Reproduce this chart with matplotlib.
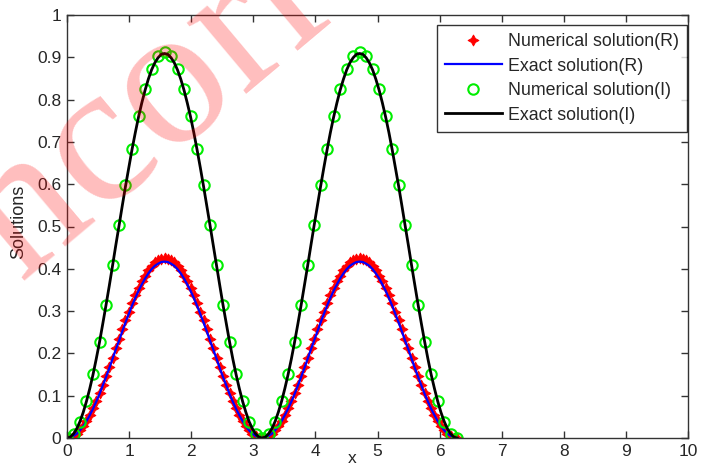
import matplotlib
matplotlib.use("Agg")
import matplotlib.pyplot as plt

# ---------------- data ----------------
x_vals = [0.000, 0.052, 0.105, 0.157, 0.209, 0.262, 0.314, 0.367, 0.419, 0.471,
          0.524, 0.576, 0.628, 0.681, 0.733, 0.785, 0.838, 0.890, 0.942, 0.995,
          1.047, 1.100, 1.152, 1.204, 1.257, 1.309, 1.361, 1.414, 1.466, 1.518,
          1.571, 1.623, 1.676, 1.728, 1.780, 1.833, 1.885, 1.937, 1.990, 2.042,
          2.094, 2.147, 2.199, 2.251, 2.304, 2.356, 2.409, 2.461, 2.513, 2.566,
          2.618, 2.670, 2.723, 2.775, 2.827, 2.880, 2.932, 2.985, 3.037, 3.089,
          3.142, 3.194, 3.246, 3.299, 3.351, 3.403, 3.456, 3.508, 3.560, 3.613,
          3.665, 3.718, 3.770, 3.822, 3.875, 3.927, 3.979, 4.032, 4.084, 4.136,
          4.189, 4.241, 4.294, 4.346, 4.398, 4.451, 4.503, 4.555, 4.608, 4.660,
          4.712, 4.765, 4.817, 4.869, 4.922, 4.974, 5.027, 5.079, 5.131, 5.184,
          5.236, 5.288, 5.341, 5.393, 5.445, 5.498, 5.550, 5.603, 5.655, 5.707,
          5.760, 5.812, 5.864, 5.917, 5.969, 6.021, 6.074, 6.126, 6.178, 6.231,
          6.283]

num_R = [0.000, 0.001, 0.005, 0.010, 0.018, 0.028, 0.041, 0.055, 0.070, 0.088,
         0.106, 0.126, 0.147, 0.168, 0.190, 0.212, 0.235, 0.257, 0.278, 0.299,
         0.319, 0.337, 0.355, 0.370, 0.384, 0.397, 0.407, 0.415, 0.420, 0.424,
         0.425, 0.424, 0.420, 0.415, 0.407, 0.397, 0.384, 0.370, 0.355, 0.337,
         0.319, 0.299, 0.278, 0.257, 0.235, 0.212, 0.190, 0.168, 0.147, 0.126,
         0.106, 0.088, 0.070, 0.055, 0.041, 0.028, 0.018, 0.010, 0.005, 0.001,
         0.000, 0.001, 0.005, 0.010, 0.018, 0.028, 0.041, 0.055, 0.070, 0.088,
         0.106, 0.126, 0.147, 0.168, 0.190, 0.212, 0.235, 0.257, 0.278, 0.299,
         0.319, 0.337, 0.355, 0.370, 0.384, 0.397, 0.407, 0.415, 0.420, 0.424,
         0.425, 0.424, 0.420, 0.415, 0.407, 0.397, 0.384, 0.370, 0.355, 0.337,
         0.319, 0.299, 0.278, 0.257, 0.235, 0.212, 0.190, 0.168, 0.147, 0.126,
         0.106, 0.088, 0.070, 0.055, 0.041, 0.028, 0.018, 0.010, 0.005, 0.001,
         0.000]

exact_R = [0.000, 0.001, 0.005, 0.010, 0.018, 0.028, 0.040, 0.054, 0.069, 0.086,
           0.104, 0.124, 0.144, 0.165, 0.187, 0.209, 0.230, 0.252, 0.273, 0.293,
           0.313, 0.331, 0.348, 0.363, 0.377, 0.389, 0.399, 0.407, 0.412, 0.416,
           0.417, 0.416, 0.412, 0.407, 0.399, 0.389, 0.377, 0.363, 0.348, 0.331,
           0.313, 0.293, 0.273, 0.252, 0.230, 0.209, 0.187, 0.165, 0.144, 0.124,
           0.104, 0.086, 0.069, 0.054, 0.040, 0.028, 0.018, 0.010, 0.005, 0.001,
           0.000, 0.001, 0.005, 0.010, 0.018, 0.028, 0.040, 0.054, 0.069, 0.086,
           0.104, 0.124, 0.144, 0.165, 0.187, 0.209, 0.230, 0.252, 0.273, 0.293,
           0.313, 0.331, 0.348, 0.363, 0.377, 0.389, 0.399, 0.407, 0.412, 0.416,
           0.417, 0.416, 0.412, 0.407, 0.399, 0.389, 0.377, 0.363, 0.348, 0.331,
           0.313, 0.293, 0.273, 0.252, 0.230, 0.209, 0.187, 0.165, 0.144, 0.124,
           0.104, 0.086, 0.069, 0.054, 0.040, 0.028, 0.018, 0.010, 0.005, 0.001,
           0.000]

num_I = [0.000, 0.010, 0.039, 0.087, 0.151, 0.228, 0.315, 0.408, 0.504, 0.597,
         0.684, 0.761, 0.825, 0.873, 0.902, 0.912, 0.902, 0.873, 0.825, 0.761,
         0.684, 0.597, 0.504, 0.408, 0.315, 0.228, 0.151, 0.087, 0.039, 0.010,
         0.000, 0.010, 0.039, 0.087, 0.151, 0.228, 0.315, 0.408, 0.504, 0.597,
         0.684, 0.761, 0.825, 0.873, 0.902, 0.912, 0.902, 0.873, 0.825, 0.761,
         0.684, 0.597, 0.504, 0.408, 0.315, 0.228, 0.151, 0.087, 0.039, 0.010,
         0.000]

exact_I = [0.000, 0.002, 0.010, 0.022, 0.039, 0.061, 0.087, 0.117, 0.150, 0.187,
           0.227, 0.270, 0.314, 0.360, 0.407, 0.455, 0.502, 0.549, 0.595, 0.639,
           0.682, 0.722, 0.759, 0.792, 0.822, 0.848, 0.870, 0.887, 0.899, 0.907,
           0.909, 0.907, 0.899, 0.887, 0.870, 0.848, 0.822, 0.792, 0.759, 0.722,
           0.682, 0.639, 0.595, 0.549, 0.502, 0.455, 0.407, 0.360, 0.314, 0.270,
           0.227, 0.187, 0.150, 0.117, 0.087, 0.061, 0.039, 0.022, 0.010, 0.002,
           0.000, 0.002, 0.010, 0.022, 0.039, 0.061, 0.087, 0.117, 0.150, 0.187,
           0.227, 0.270, 0.314, 0.360, 0.407, 0.455, 0.502, 0.549, 0.595, 0.639,
           0.682, 0.722, 0.759, 0.792, 0.822, 0.848, 0.870, 0.887, 0.899, 0.907,
           0.909, 0.907, 0.899, 0.887, 0.870, 0.848, 0.822, 0.792, 0.759, 0.722,
           0.682, 0.639, 0.595, 0.549, 0.502, 0.455, 0.407, 0.360, 0.314, 0.270,
           0.227, 0.187, 0.150, 0.117, 0.087, 0.061, 0.039, 0.022, 0.010, 0.002,
           0.000]

x_ticks = [0, 1, 2, 3, 4, 5, 6, 7, 8, 9, 10]
y_ticks = [0, 0.1, 0.2, 0.3, 0.4, 0.5, 0.6, 0.7, 0.8, 0.9, 1]
y_ticklabels = ["0", "0.1", "0.2", "0.3", "0.4", "0.5", "0.6", "0.7", "0.8", "0.9", "1"]
labels = ["Numerical solution(R)", "Exact solution(R)",
          "Numerical solution(I)", "Exact solution(I)"]

# ---------------- figure ----------------
plt.rcParams['font.family'] = ['Liberation Sans', 'DejaVu Sans']
txt = '#262626'

fig = plt.figure(figsize=(7.02, 4.66), dpi=100)
ax = fig.add_axes([67/702, 28/466, 621/702, 423/466])

x_I = x_vals[::2]
ax.plot(x_vals, num_R, linestyle='none', marker=(4, 1, 0), ms=8, mew=0.6,
        color='red', label=labels[0])
ax.plot(x_vals, exact_R, color='blue', lw=1.6, label=labels[1])
ax.plot(x_I, num_I, linestyle='none', marker='o', ms=7.5, mew=1.5,
        mfc='none', mec='#00ee00', label=labels[2])
ax.plot(x_vals, exact_I, color='black', lw=2.0, label=labels[3])

ax.set_xlim(0, 10)
ax.set_ylim(0, 1)
ax.set_xticks(x_ticks)
ax.set_yticks(y_ticks)
ax.set_yticklabels(y_ticklabels)
ax.tick_params(direction='in', length=5, width=1, top=True, right=True,
               labelsize=12.5, colors='#333333', labelcolor=txt)
ax.tick_params(axis='x', pad=4)
ax.tick_params(axis='y', pad=4)
for s in ax.spines.values():
    s.set_color('#333333')
    s.set_linewidth(1.0)

ax.set_xlabel('x', fontsize=12.5, color=txt)
ax.xaxis.set_label_coords(0.459, -0.030)
ax.set_ylabel('Solutions', fontsize=13, color=txt)
ax.yaxis.set_label_coords(-0.064, 0.51)

leg = ax.legend(loc='upper right', bbox_to_anchor=(0.998, 0.976),
                borderaxespad=0, fontsize=12.8, frameon=True, fancybox=False,
                edgecolor='black', handlelength=3.2, handletextpad=0.35,
                labelspacing=0.42, borderpad=0.45, markerscale=1.0)
leg.get_frame().set_linewidth(1.0)
for t in leg.get_texts():
    t.set_color(txt)

# watermark
fig.text(-0.129, 0.193, 'Uncorrected Proof', fontsize=145,
         family=['Liberation Serif', 'DejaVu Serif'], color='red', alpha=0.26,
         rotation=40, rotation_mode='anchor', ha='left', va='baseline', zorder=10)

fig.savefig('out.png', dpi=100)
